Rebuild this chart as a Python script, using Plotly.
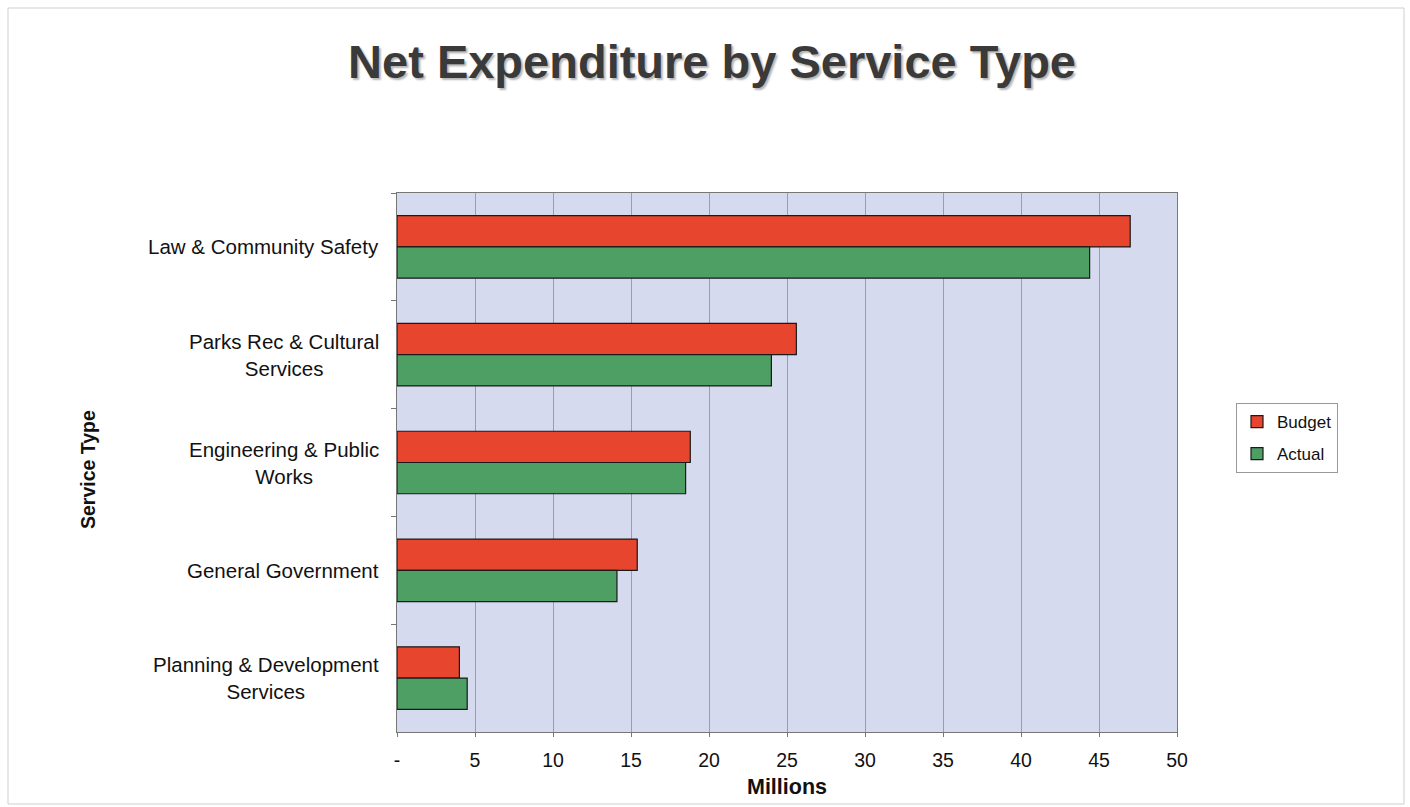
import plotly.graph_objects as go

# Service categories, top to bottom
categories = [
    "Law & Community Safety",
    "Parks Rec & Cultural<br>Services",
    "Engineering & Public<br>Works",
    "General Government",
    "Planning & Development<br>Services",
]

# Net expenditure in millions
budget = [47.0, 25.6, 18.8, 15.4, 4.0]
actual = [44.4, 24.0, 18.5, 14.1, 4.5]

x_tick_vals = [0, 5, 10, 15, 20, 25, 30, 35, 40, 45, 50]
x_tick_text = ["-", "5", "10", "15", "20", "25", "30", "35", "40", "45", "50"]

W, H = 1410, 807
L, R, T, B = 397, 233, 193, 75
pw, ph = W - L - R, H - T - B

def px_x(p):
    return (p - L) / pw

def px_y(p):
    return (H - B - p) / ph

FONT = "Liberation Sans, Arial, sans-serif"

fig = go.Figure()
fig.add_trace(go.Bar(
    name="Budget", y=categories, x=budget, orientation="h",
    legendgroup="b",
    marker=dict(color="#E8452F", line=dict(color="#1a1a1a", width=1.2)),
))
fig.add_trace(go.Bar(
    name="Actual", y=categories, x=actual, orientation="h",
    legendgroup="a",
    marker=dict(color="#4E9F63", line=dict(color="#1a1a1a", width=1.2)),
))

# Category labels, centred line by line
annotations = []
for c in categories:
    annotations.append(dict(
        x=px_x(381), xref="paper", xanchor="right",
        y=c, yref="y", yanchor="middle",
        text=c, showarrow=False, align="center",
        font=dict(family=FONT, size=20.5, color="#111"),
    ))
annotations.append(dict(
    x=px_x(88), xref="paper", xanchor="center",
    y=px_y(470), yref="paper", yanchor="middle",
    text="<b>Service Type</b>", textangle=-90, showarrow=False,
    font=dict(family=FONT, size=19.5, color="#111"),
))

fig.update_layout(
    width=W, height=H,
    margin=dict(l=L, r=R, t=T, b=B),
    paper_bgcolor="white",
    plot_bgcolor="#D6DAEF",
    barmode="group",
    bargap=0.42,
    bargroupgap=0.0,
    title=dict(
        text="<b>Net Expenditure by Service Type</b>",
        x=0.505, xanchor="center", y=1 - 62 / H, yanchor="middle",
        font=dict(family=FONT, size=47, color="#3a3a3a",
                  shadow="2px 2px 2px #b5b5b5"),
    ),
    xaxis=dict(
        range=[0, 50], tickvals=x_tick_vals, ticktext=x_tick_text,
        showgrid=True, gridcolor="#9C9CAE", gridwidth=1,
        ticks="outside", ticklen=4, tickcolor="#777",
        ticklabelstandoff=7,
        showline=True, linecolor="#777", linewidth=1, mirror=True,
        zeroline=False,
        tickfont=dict(family=FONT, size=19.5, color="#111"),
        title=dict(text="<b>Millions</b>", standoff=8,
                   font=dict(family=FONT, size=21.5, color="#111")),
    ),
    yaxis=dict(
        autorange="reversed", showticklabels=False,
        ticks="outside", tickson="boundaries", ticklen=5, tickcolor="#777",
        showline=True, linecolor="#777", linewidth=1, mirror=True,
        showgrid=False,
    ),
    legend=dict(
        x=px_x(1236), xanchor="left", y=px_y(403), yanchor="top",
        bordercolor="#999", borderwidth=1, bgcolor="white",
        traceorder="grouped", tracegroupgap=7,
        font=dict(family=FONT, size=17, color="#111"),
        itemwidth=30,
    ),
    annotations=annotations,
    shapes=[dict(
        type="rect", xref="paper", yref="paper",
        x0=px_x(8), x1=px_x(1404), y0=px_y(804), y1=px_y(8),
        line=dict(color="#cfcfcf", width=1),
    )],
)

fig.write_html("out.html")
